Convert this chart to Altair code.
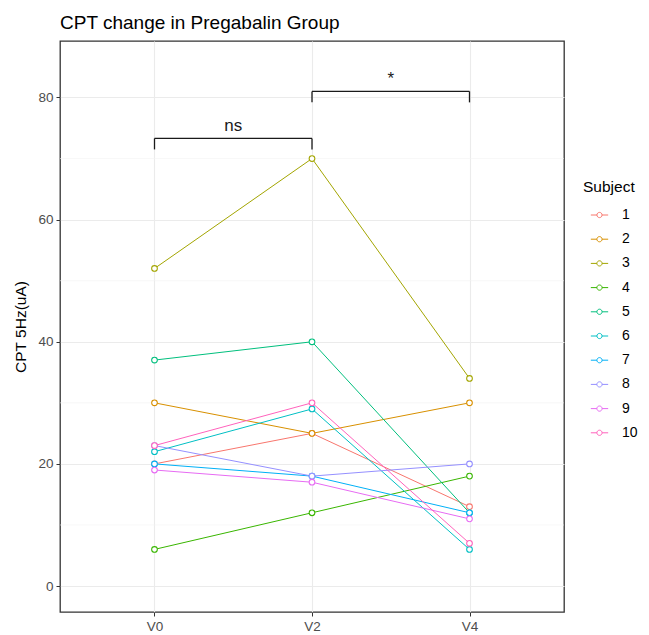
import altair as alt
import pandas as pd

visits = ["V0", "V2", "V4"]
subjects = ["1", "2", "3", "4", "5", "6", "7", "8", "9", "10"]
v0 = [20, 30, 52, 6, 37, 22, 20, 23, 19, 23]
v2 = [25, 25, 70, 12, 40, 29, 18, 18, 17, 30]
v4 = [13, 30, 34, 18, 12, 6, 12, 20, 11, 7]
colors = ["#F8766D", "#D89000", "#A3A500", "#39B600", "#00BF7D",
          "#00BFC4", "#00B0F6", "#9590FF", "#E76BF3", "#FF62BC"]

cmp_from = ["V0", "V2"]
cmp_to = ["V2", "V4"]
cmp_label = ["ns", "*"]
cmp_y = [73.3, 81.0]
tip_len = 1.8
y_major = [0, 20, 40, 60, 80]
y_minor = [10, 30, 50, 70]

FONT = "Liberation Sans"

rows = []
for i, s in enumerate(subjects):
    for j, vals in enumerate([v0, v2, v4]):
        rows.append({"Subject": s, "visit": visits[j], "vi": j, "value": vals[i]})
df = pd.DataFrame(rows)

hz = pd.DataFrame({
    "x": [visits.index(a) for a in cmp_from],
    "x2": [visits.index(b) for b in cmp_to],
    "y": cmp_y,
})
tips = pd.DataFrame({
    "x": [visits.index(a) for a in cmp_from] + [visits.index(b) for b in cmp_to],
    "y": [c - tip_len for c in cmp_y] * 2,
    "y2": cmp_y * 2,
})
labs = pd.DataFrame({
    "x": [(visits.index(a) + visits.index(b)) / 2 for a, b in zip(cmp_from, cmp_to)],
    "y": [c + 1.2 for c in cmp_y],
    "label": cmp_label,
})
minor = pd.DataFrame({"y": y_minor})

xscale = alt.Scale(domain=[-0.6, 2.6], nice=False, zero=False)
yscale = alt.Scale(domain=[-4.25, 89.25], nice=False, zero=False)

xaxis = alt.Axis(values=[0, 1, 2], labelExpr="['V0','V2','V4'][datum.value]",
                 title=None, grid=True, gridColor="#EBEBEB", gridWidth=1.1,
                 labelFont=FONT, labelFontSize=13.5, labelColor="#4D4D4D",
                 tickColor="#333333", tickSize=4, labelPadding=3, domain=False)
yaxis = alt.Axis(values=y_major, title="CPT 5Hz(uA)", grid=True,
                 gridColor="#EBEBEB", gridWidth=1.1,
                 labelFont=FONT, labelFontSize=13.5, labelColor="#4D4D4D",
                 tickColor="#333333", tickSize=4, labelPadding=3, domain=False,
                 titleFont=FONT, titleFontSize=15.5, titleFontWeight="normal",
                 titleColor="#000000", titlePadding=9)

minor_grid = alt.Chart(minor).mark_rule(color="#F2F2F2", strokeWidth=0.6).encode(
    y=alt.Y("y:Q", scale=yscale, axis=yaxis),
)

legend_path = ("M-1,0 L-0.3,0 M0.3,0 L1,0 "
               "M-0.3,0 A0.3,0.3 0 1,0 0.3,0 A0.3,0.3 0 1,0 -0.3,0 Z")

color = alt.Color("Subject:N", scale=alt.Scale(domain=subjects, range=colors),
                  sort=subjects,
                  legend=alt.Legend(title="Subject", orient="none",
                                    legendX=523, legendY=139,
                                    symbolType=legend_path, symbolSize=300,
                                    symbolStrokeWidth=1, symbolFillColor="transparent",
                                    symbolOffset=7,
                                    rowPadding=7.2, labelFont=FONT, labelFontSize=14,
                                    labelColor="#000000", titleFont=FONT,
                                    titleFontSize=15.5, titleFontWeight="normal",
                                    titleColor="#000000", titlePadding=10,
                                    labelOffset=13))

lines = alt.Chart(df).mark_line(strokeWidth=1).encode(
    x=alt.X("vi:Q", scale=xscale, axis=xaxis),
    y=alt.Y("value:Q", scale=yscale, axis=yaxis),
    color=color,
    detail="Subject:N",
    order="vi:Q",
)
points = alt.Chart(df).mark_point(filled=False, fill="white", fillOpacity=1,
                                  size=32, strokeWidth=1.1, opacity=1).encode(
    x=alt.X("vi:Q", scale=xscale),
    y=alt.Y("value:Q", scale=yscale),
    color=alt.Color("Subject:N", scale=alt.Scale(domain=subjects, range=colors),
                    legend=None),
)

br_h = alt.Chart(hz).mark_rule(color="#1A1A1A", strokeWidth=1.3).encode(
    x=alt.X("x:Q", scale=xscale), x2="x2:Q", y=alt.Y("y:Q", scale=yscale))
br_t = alt.Chart(tips).mark_rule(color="#1A1A1A", strokeWidth=1.3).encode(
    x=alt.X("x:Q", scale=xscale), y=alt.Y("y:Q", scale=yscale), y2="y2:Q")
br_l = alt.Chart(labs).mark_text(font=FONT, fontSize=17, color="#1A1A1A",
                                 baseline="alphabetic", align="center").encode(
    x=alt.X("x:Q", scale=xscale), y=alt.Y("y:Q", scale=yscale), text="label:N")

chart = alt.layer(minor_grid, lines, points, br_h, br_t, br_l).properties(
    width=504, height=571,
    background="white",
    title=alt.TitleParams("CPT change in Pregabalin Group", anchor="start",
                          frame="group", font=FONT, fontSize=19,
                          fontWeight="normal", color="#000000", offset=8),
    autosize=alt.AutoSizeParams(type="none"),
    padding={"left": 52, "top": 33, "right": 77, "bottom": 20},
).configure_view(stroke="#333333", strokeWidth=1.3)

chart.save("out.html", embed_options={"renderer": "svg", "actions": False})
